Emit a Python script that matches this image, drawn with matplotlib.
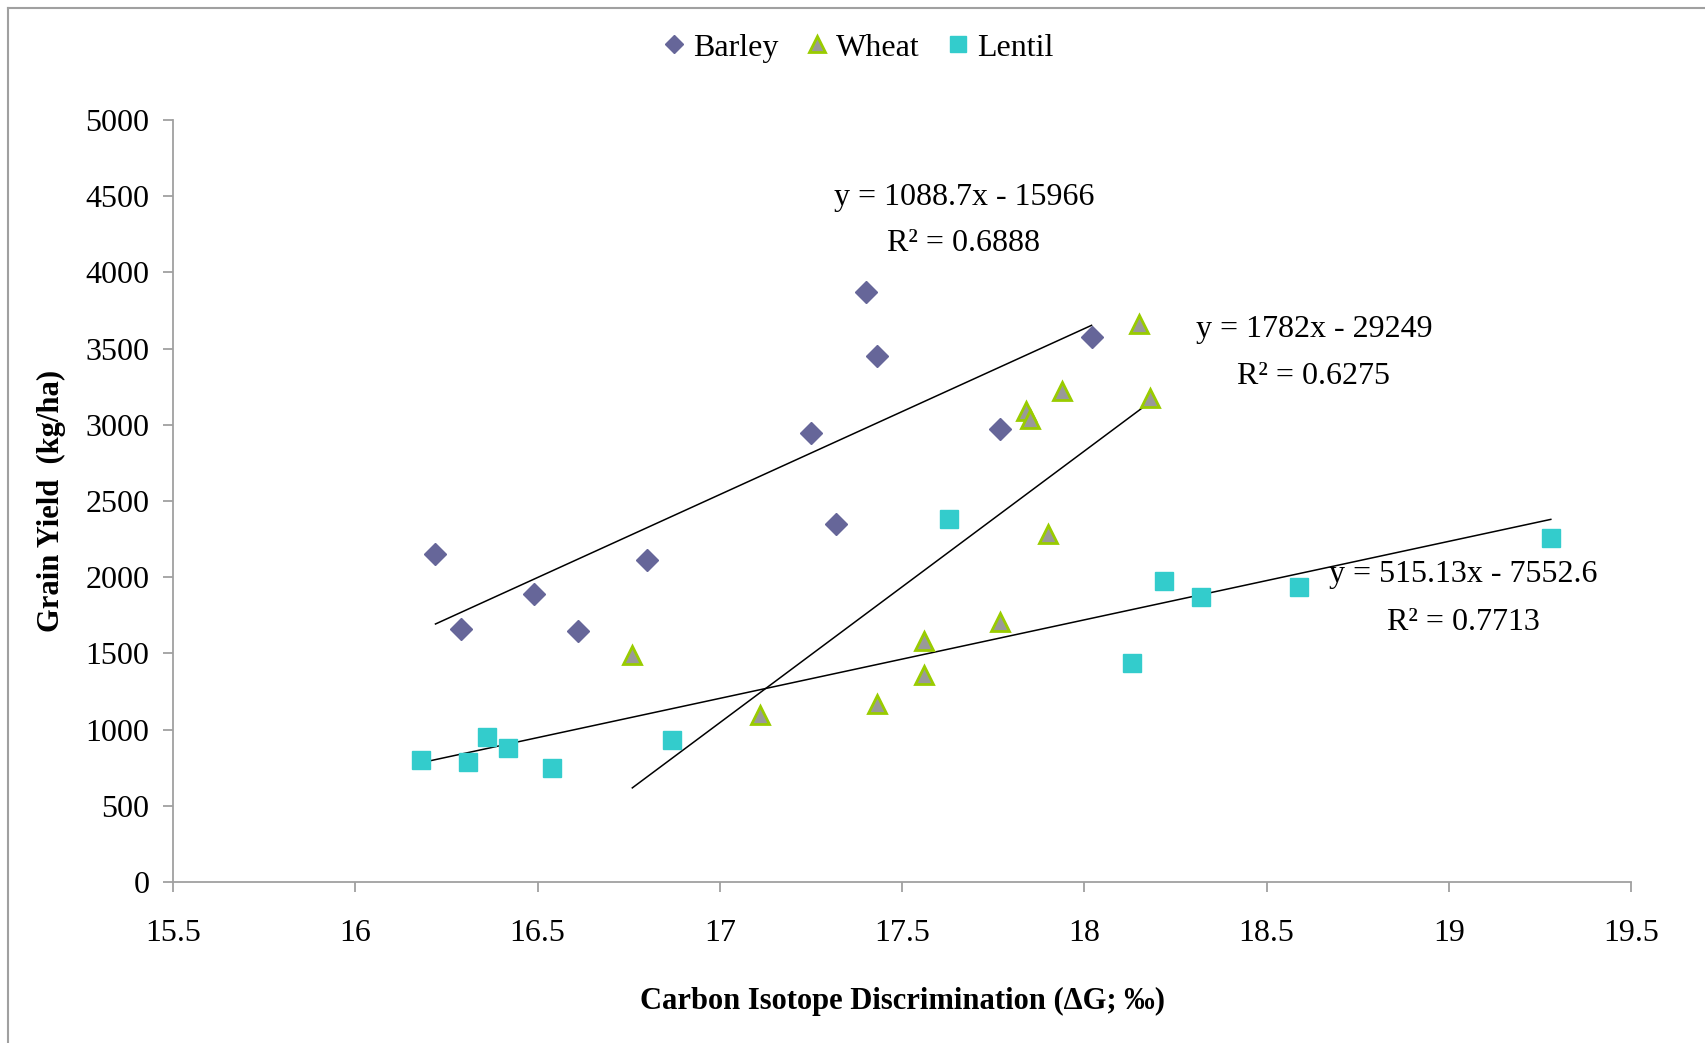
import numpy as np
import matplotlib
matplotlib.use("Agg")
import matplotlib.pyplot as plt
from matplotlib.lines import Line2D

plt.rcParams['font.family'] = ['Liberation Serif', 'DejaVu Serif']

# Barley
barley_x = [16.22, 16.29, 16.49, 16.61, 16.80, 17.25, 17.32, 17.40, 17.43, 17.77, 18.02]
barley_y = [2150, 1662, 1890, 1648, 2111, 2946, 2347, 3873, 3452, 2974, 3573]
# Wheat
wheat_x = [16.76, 17.11, 17.43, 17.56, 17.56, 17.77, 17.84, 17.85, 17.90, 17.94, 18.15, 18.18]
wheat_y = [1491, 1098, 1170, 1583, 1355, 1705, 3088, 3038, 2282, 3224, 3659, 3174]
# Lentil
lentil_x = [16.18, 16.31, 16.36, 16.42, 16.54, 16.87, 17.63, 18.13, 18.22, 18.32, 18.59, 19.28]
lentil_y = [799, 785, 949, 877, 749, 934, 2382, 1434, 1976, 1869, 1933, 2254]

# trendline coefficients (slope, intercept, r2) as printed on the chart
fits = {
    "Barley": (1088.7, -15966, 0.6888),
    "Wheat": (1782, -29249, 0.6275),
    "Lentil": (515.13, -7552.6, 0.7713),
}
labels = {
    "Barley": ("y = 1088.7x - 15966", "R² = 0.6888"),
    "Wheat": ("y = 1782x - 29249", "R² = 0.6275"),
    "Lentil": ("y = 515.13x - 7552.6", "R² = 0.7713"),
}

fig = plt.figure(figsize=(17.05, 10.43), dpi=100)
ax = fig.add_axes([0.1015, 0.1544, 0.8551, 0.7306])

ax.plot(barley_x, barley_y, 'D', ms=11, color='#666699', mec='#666699',
        label='Barley', zorder=3)
ax.plot(wheat_x, wheat_y, '^', ms=13, color='#999999', mec='#99cc00',
        mew=2, label='Wheat', zorder=3)
ax.plot(lentil_x, lentil_y, 's', ms=13, color='#33cccc', mec='#33cccc',
        label='Lentil', zorder=3)

for name, xs in [("Barley", barley_x), ("Wheat", wheat_x), ("Lentil", lentil_x)]:
    m, b, r2 = fits[name]
    xx = np.array([min(xs), max(xs)])
    ax.plot(xx, m * xx + b, color='black', lw=1.1, zorder=2)

txt_pos = {"Barley": (17.67, 4494, 4187),
           "Wheat": (18.63, 3624, 3317),
           "Lentil": (19.04, 2019, 1705)}
for name, (tx, ty1, ty2) in txt_pos.items():
    l1, l2 = labels[name]
    ax.text(tx, ty1, l1, ha='center', va='center', fontsize=23)
    ax.text(tx, ty2, l2, ha='center', va='center', fontsize=23)

ax.set_xlim(15.5, 19.5)
ax.set_ylim(0, 5000)
ax.set_xticks(np.arange(15.5, 19.51, 0.5))
ax.set_xticklabels(['15.5', '16', '16.5', '17', '17.5', '18', '18.5', '19', '19.5'])
ax.set_yticks(np.arange(0, 5001, 500))

for s in ['top', 'right']:
    ax.spines[s].set_visible(False)
for s in ['left', 'bottom']:
    ax.spines[s].set_color('#a0a0a0')
    ax.spines[s].set_linewidth(1.3)
ax.tick_params(direction='out', length=7, width=1.3, color='#a0a0a0',
               labelsize=23)
ax.tick_params(axis='x', pad=20)
ax.tick_params(axis='y', pad=10)

ax.set_xlabel('Carbon Isotope Discrimination (ΔG; ‰)', fontsize=22,
              fontweight='bold', labelpad=28)
ax.set_ylabel('Grain Yield  (kg/ha)', fontsize=22, fontweight='bold',
              labelpad=14)

fig.legend(loc='center', bbox_to_anchor=(0.502, 0.954), ncol=3,
           frameon=False, fontsize=23, handletextpad=0.1,
           columnspacing=0.7, handlelength=1.0, markerscale=0.85)

# outer frame (only top and left edges visible)
fig.add_artist(Line2D([0.0047, 1.0], [0.9923, 0.9923], color='#a0a0a0',
                      lw=1.5, transform=fig.transFigure))
fig.add_artist(Line2D([0.0047, 0.0047], [0.0, 0.9923], color='#a0a0a0',
                      lw=1.5, transform=fig.transFigure))

fig.savefig('out.png', dpi=100)
